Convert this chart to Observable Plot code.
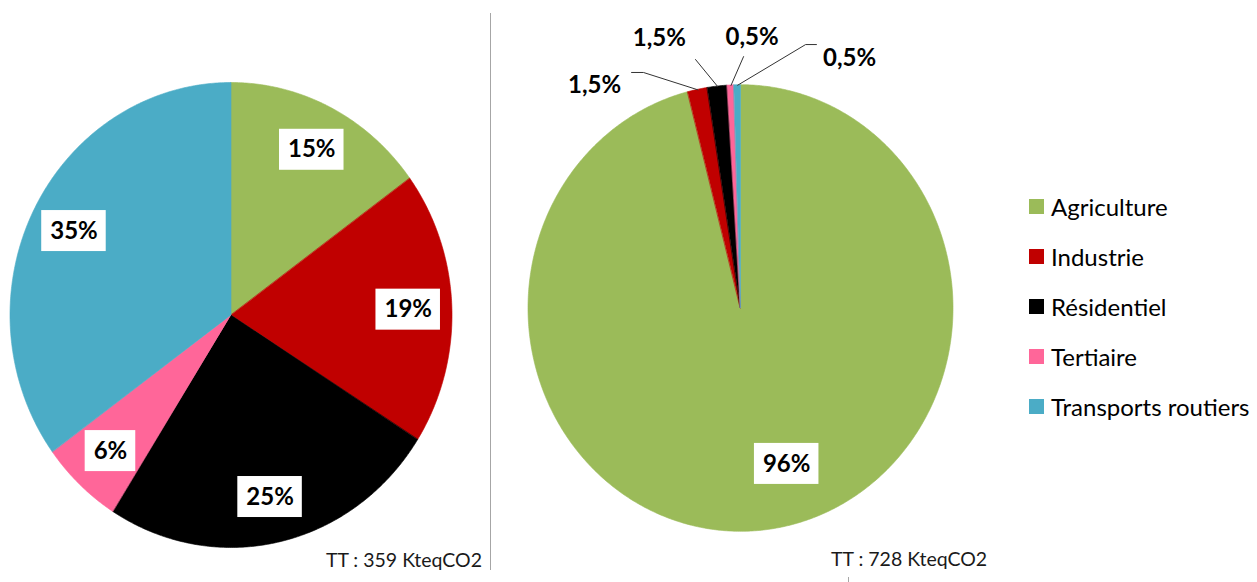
<!DOCTYPE html>
<html><head><meta charset="utf-8">
<script src="https://cdn.jsdelivr.net/npm/d3@7"></script>
<script src="https://cdn.jsdelivr.net/npm/@observablehq/plot@0.6"></script>
<style>
body{margin:0;background:#fff;}
#wrap{position:relative;width:1257px;height:582px;overflow:hidden;font-family:Lato,"DejaVu Sans",sans-serif;}
.abs{position:absolute;}
.caption{position:absolute;font-size:19.5px;line-height:19.5px;color:#1a1a1a;white-space:nowrap;}
.legend-row{display:flex;align-items:center;height:50px;font-size:24px;color:#000;white-space:nowrap;}
.sw{width:15px;height:15px;margin-right:7px;flex:none;}
</style></head><body><div id="wrap"></div>
<script>
// ---- data ----
const categories = ["Agriculture", "Industrie", "Résidentiel", "Tertiaire", "Transports routiers"];
const colors = ["#9BBB59", "#C00000", "#000000", "#FF6699", "#4BACC6"];
const leftValues = [15, 19, 25, 6, 35];
const leftLabels = ["15%", "19%", "25%", "6%", "35%"];
const rightValues = [96, 1.5, 1.5, 0.5, 0.5];
const rightLabels = ["96%", "1,5%", "1,5%", "0,5%", "0,5%"];
const leftTotal = "TT : 359 KteqCO2";
const rightTotal = "TT : 728 KteqCO2";

// ---- layout (pie-radius units, x right, y up) ----
const insideLabelRadius = 0.8;
const rightLabelPos = [[0.215, -0.696], [-0.689, 0.999], [-0.384, 1.209], [0.052, 1.214], [0.511, 1.120]];
const rightLeaders = [null, [[-0.459, 1.057], [-0.515, 1.057]], [[-0.214, 1.115]], [[0.012, 1.128]], [[0.304, 1.182], [0.355, 1.182]]];
const rightBoxed = [true, false, false, false, false];
const leftBoxed = [true, true, true, true, true];

const labelFont = "bold 24px Lato";
const measureCtx = document.createElement("canvas").getContext("2d");
function textWidth(s) { measureCtx.font = labelFont; return measureCtx.measureText(s).width; }

function pieChart({values, labels, width, xRange, yRange, labelPos, leaders, boxed}) {
  const total = d3.sum(values);
  const ends = Array.from(d3.cumsum(values));
  const slices = values.map((v, i) => ({
    cat: categories[i], label: labels[i],
    a0: (ends[i] - v) / total * 2 * Math.PI,
    a1: ends[i] / total * 2 * Math.PI
  }));
  const arcPts = slices.flatMap(s => {
    const n = Math.max(2, Math.ceil((s.a1 - s.a0) / (Math.PI / 360)));
    return d3.range(n + 1).map(k => {
      const a = s.a0 + (s.a1 - s.a0) * k / n;
      return {cat: s.cat, x: Math.sin(a), y: Math.cos(a), cx: 0, cy: 0};
    });
  });
  const kx = (xRange[1] - xRange[0]) / 2, ky = (yRange[0] - yRange[1]) / 2;
  const lab = slices.map((s, i) => {
    const m = (s.a0 + s.a1) / 2;
    const p = labelPos ? labelPos[i] : [insideLabelRadius * Math.sin(m), insideLabelRadius * Math.cos(m)];
    const w = textWidth(s.label);
    return {...s, x: p[0], y: p[1], boxed: boxed[i], hw: (w / 2 + 8.5) / kx, hh: 20.5 / ky};
  });
  const leaderPts = leaders ? slices.flatMap((s, i) => {
    if (!leaders[i]) return [];
    const m = (s.a0 + s.a1) / 2;
    return [[Math.sin(m), Math.cos(m)], ...leaders[i]].map(p => ({cat: s.cat, x: p[0], y: p[1]}));
  }) : [];
  return Plot.plot({
    width, height: 582,
    x: {domain: [-1, 1], range: xRange, axis: null},
    y: {domain: [-1, 1], range: yRange, axis: null},
    color: {domain: categories, range: colors},
    style: {background: "transparent", overflow: "visible"},
    marks: [
      Plot.area(arcPts, {x1: "cx", y1: "cy", x2: "x", y2: "y", z: "cat", fill: "cat", stroke: "cat", strokeWidth: 0.6, curve: "linear"}),
      Plot.line(leaderPts, {x: "x", y: "y", z: "cat", stroke: "#333", strokeWidth: 1}),
      Plot.rect(lab.filter(d => d.boxed), {x1: d => d.x - d.hw, x2: d => d.x + d.hw, y1: d => d.y - d.hh, y2: d => d.y + d.hh, fill: "white"}),
      Plot.text(lab, {x: "x", y: "y", text: "label", fontFamily: "Lato", fontWeight: "bold", fontSize: 24, fill: "black"})
    ]
  });
}

const wrap = document.getElementById("wrap");

const left = pieChart({values: leftValues, labels: leftLabels, width: 490,
  xRange: [10, 452], yRange: [547.5, 82.5], labelPos: null, leaders: null, boxed: leftBoxed});
left.style.position = "absolute"; left.style.left = "0px"; left.style.top = "0px";
wrap.appendChild(left);

const right = pieChart({values: rightValues, labels: rightLabels, width: 767,
  xRange: [38, 463], yRange: [531.3, 84.7], labelPos: rightLabelPos, leaders: rightLeaders, boxed: rightBoxed});
right.style.position = "absolute"; right.style.left = "490px"; right.style.top = "0px";
wrap.appendChild(right);

// separator and small tick
const sep = document.createElement("div");
sep.className = "abs"; Object.assign(sep.style, {left: "490px", top: "13px", width: "1px", height: "557px", background: "#a6a6a6"});
wrap.appendChild(sep);
const tick = document.createElement("div");
tick.className = "abs"; Object.assign(tick.style, {left: "848px", top: "577px", width: "1px", height: "5px", background: "#a6a6a6"});
wrap.appendChild(tick);

// captions
const c1 = document.createElement("div"); c1.className = "caption"; c1.textContent = leftTotal;
Object.assign(c1.style, {right: (1257 - 482) + "px", top: "550px"}); wrap.appendChild(c1);
const c2 = document.createElement("div"); c2.className = "caption"; c2.textContent = rightTotal;
Object.assign(c2.style, {left: "831px", top: "549px"}); wrap.appendChild(c2);

// legend
const leg = document.createElement("div");
leg.className = "abs"; Object.assign(leg.style, {left: "1029px", top: "181.5px"});
categories.forEach((c, i) => {
  const row = document.createElement("div"); row.className = "legend-row";
  const sw = document.createElement("span"); sw.className = "sw"; sw.style.background = colors[i];
  const t = document.createElement("span"); t.textContent = c;
  row.appendChild(sw); row.appendChild(t); leg.appendChild(row);
});
wrap.appendChild(leg);
</script></body></html>
